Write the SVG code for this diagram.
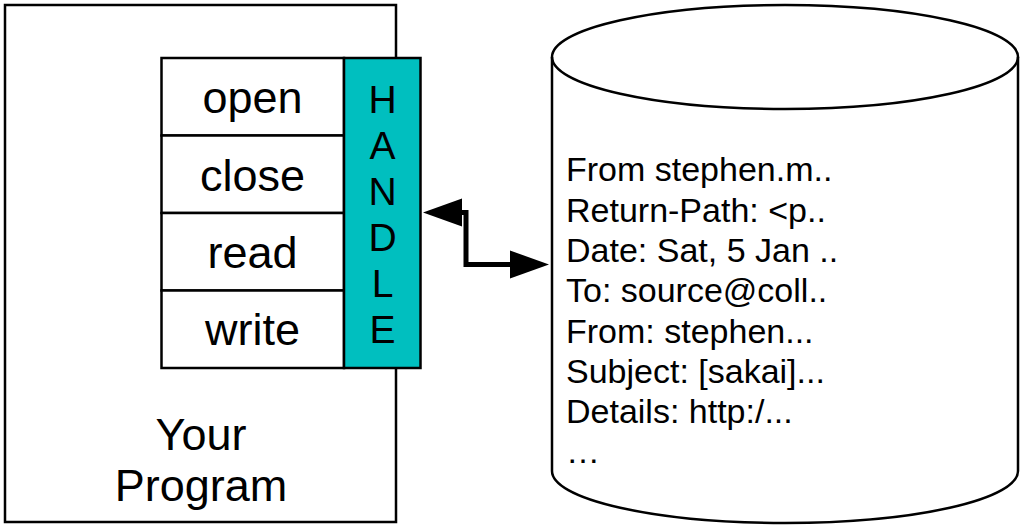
<svg xmlns="http://www.w3.org/2000/svg" width="1024" height="530" viewBox="0 0 1024 530">
  <style>
    .box { fill: #ffffff; stroke: #000000; stroke-width: 2.5; }
    .t { font-family: "Liberation Sans", Arial, sans-serif; fill: #000000; }
    .big { font-size: 45px; text-anchor: middle; }
    .hd { font-size: 39px; text-anchor: middle; }
    .rec { font-size: 34px; }
    .conn { fill: none; stroke: #000000; stroke-width: 5; stroke-linejoin: miter; }
  </style>

  <g id="your-program">
    <rect class="box" x="5" y="5" width="391" height="517"/>
    <text class="t big" x="201" y="450">Your</text>
    <text class="t big" x="201" y="501">Program</text>
  </g>

  <g id="ops">
    <rect class="box" x="161.5" y="58" width="182.5" height="77.5"/>
    <rect class="box" x="161.5" y="135.5" width="182.5" height="77.5"/>
    <rect class="box" x="161.5" y="213" width="182.5" height="77.5"/>
    <rect class="box" x="161.5" y="290.5" width="182.5" height="77.5"/>
    <text class="t big" x="252.5" y="113">open</text>
    <text class="t big" x="252.5" y="190.5">close</text>
    <text class="t big" x="252.5" y="268">read</text>
    <text class="t big" x="252.5" y="345">write</text>
  </g>

  <g id="handle">
    <rect x="344" y="58" width="76.5" height="310" fill="#00BFBF" stroke="#000000" stroke-width="2.5"/>
    <text class="t hd" x="382.5" y="112.5">H</text>
    <text class="t hd" x="382.5" y="158.5">A</text>
    <text class="t hd" x="382.5" y="204.5">N</text>
    <text class="t hd" x="382.5" y="250.5">D</text>
    <text class="t hd" x="382.5" y="296.5">L</text>
    <text class="t hd" x="382.5" y="342.5">E</text>
  </g>

  <g id="file">
    <path d="M552,57 L552,471 A233,52 0 0 0 1018,471 L1018,57 A233,52 0 0 0 552,57 Z" fill="#ffffff" stroke="#000000" stroke-width="2.5"/>
    <path d="M552,57 A233,52 0 0 0 1018,57" fill="none" stroke="#000000" stroke-width="2.5"/>
    <text class="t rec" x="566" y="181">From stephen.m..</text>
    <text class="t rec" x="566" y="221.5">Return-Path: &lt;p..</text>
    <text class="t rec" x="566" y="262">Date: Sat, 5 Jan ..</text>
    <text class="t rec" x="566" y="302">To: source@coll..</text>
    <text class="t rec" x="566" y="342.5">From: stephen...</text>
    <text class="t rec" x="566" y="383">Subject: [sakai]...</text>
    <text class="t rec" x="566" y="423">Details: http:/...</text>
    <text class="t rec" x="566" y="463">…</text>
  </g>

  <g id="connectors">
    <path class="conn" d="M461,212.5 L466,212.5 L466,264.5 L510,264.5"/>
    <path d="M423,212.5 L462,198.5 L462,226.5 Z" fill="#000000"/>
    <path d="M549,264.5 L510,250.5 L510,278.5 Z" fill="#000000"/>
  </g>
</svg>
